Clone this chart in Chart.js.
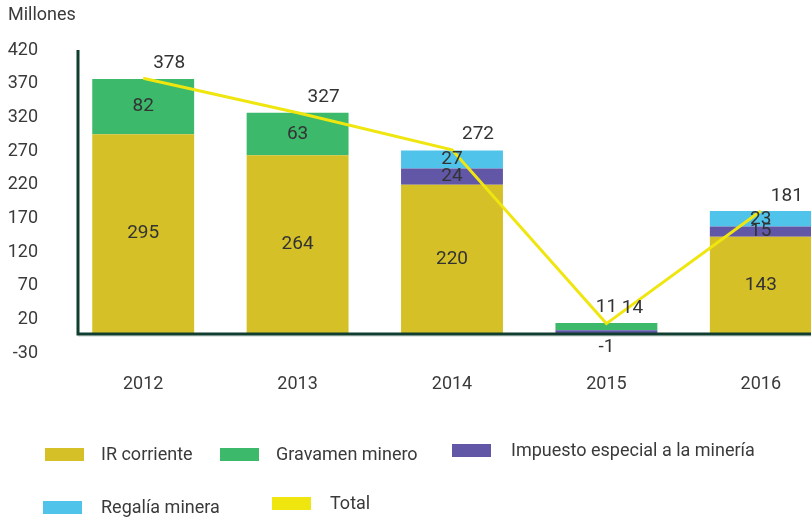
<!DOCTYPE html>
<html>
<head>
<meta charset="utf-8">
<title>Millones</title>
<script src="https://cdn.jsdelivr.net/npm/chart.js@4.4.1/dist/chart.umd.min.js"></script>
<style>
	html, body { margin: 0; padding: 0; overflow: hidden; background: #fff; font-family: Roboto, sans-serif; }
	#wrap { position: relative; width: 811px; height: 518px; overflow: hidden; }
	#chart { position: absolute; left: 0; top: 0; }
	#unit { position: absolute; left: 8px; top: 3px; font-size: 18px; color: #3a3a3a; }
	.box { position: absolute; width: 39px; height: 13px; }
	.txt { position: absolute; font-size: 18px; color: #3a3a3a; white-space: nowrap; line-height: 22px; }
</style>
</head>
<body>
<div id="wrap">
	<canvas id="chart" width="845" height="518"></canvas>
	<div id="unit">Millones</div>

	<div class="box" style="left:45px;top:448px;background:#d5c027"></div>
	<div class="txt" style="left:101px;top:443px">IR corriente</div>
	<div class="box" style="left:220px;top:448px;background:#3cb96a"></div>
	<div class="txt" style="left:276px;top:443px">Gravamen minero</div>
	<div class="box" style="left:452px;top:444px;background:#6157a6"></div>
	<div class="txt" style="left:511px;top:439px">Impuesto especial a la minería</div>
	<div class="box" style="left:43px;top:501px;background:#4fc3ea"></div>
	<div class="txt" style="left:101px;top:496px">Regalía minera</div>
	<div class="box" style="left:272px;top:497px;background:#efe60f"></div>
	<div class="txt" style="left:330px;top:492px">Total</div>
</div>
<script>
	const years = ['2012', '2013', '2014', '2015', '2016'];
	const irCorriente = [295, 264, 220, -1, 143];
	const impuesto = [0, 0, 24, 4, 15];
	const regalia = [0, 0, 27, 0, 23];
	const gravamen = [82, 63, 0, 11, 0];
	const total = [378, 327, 272, 14, 181];
	const yTicks = [-30, 20, 70, 120, 170, 220, 270, 320, 370, 420];

	const textColor = '#3a3a3a';
	Chart.defaults.font.family = 'Roboto';
	Chart.defaults.color = textColor;

	// axis lines at the zero level + value labels
	const decorations = {
		id: 'decorations',
		afterDatasetsDraw(chart) {
			const ctx = chart.ctx;
			const area = chart.chartArea;
			const zeroY = chart.scales.y.getPixelForValue(0);
			const axisX = area.left + 12;
			ctx.save();
			ctx.strokeStyle = '#c9d2ce';
			ctx.lineWidth = 1;
			ctx.beginPath();
			ctx.moveTo(axisX, zeroY + 3);
			ctx.lineTo(area.right, zeroY + 3);
			ctx.stroke();
			ctx.strokeStyle = '#0f3d2f';
			ctx.lineWidth = 3;
			ctx.beginPath();
			ctx.moveTo(axisX, area.top);
			ctx.lineTo(axisX, zeroY + 1);
			ctx.lineTo(area.right, zeroY + 1);
			ctx.stroke();

			ctx.font = '19px Roboto';
			ctx.fillStyle = '#333';
			ctx.textAlign = 'center';
			ctx.textBaseline = 'middle';
			chart.data.datasets.forEach((ds, d) => {
				const meta = chart.getDatasetMeta(d);
				meta.data.forEach((el, i) => {
					const v = ds.data[i];
					if (ds.type === 'line') {
						ctx.fillText(v, el.x + 26, el.y - 15);
						return;
					}
					if (v === 0 || (v > 0 && v < 10)) return;
					let y;
					if (v < 0) y = Math.max(el.y, el.base) + 14;
					else if (v < 15) y = el.y - 16;
					else y = (el.y + el.base) / 2;
					ctx.fillText(v, el.x, y);
				});
			});
			ctx.restore();
		}
	};

	const bar = (label, data, color) => ({
		type: 'bar', label: label, data: data, backgroundColor: color,
		stack: 'taxes', order: 1, barPercentage: 0.66, categoryPercentage: 1
	});

	new Chart(document.getElementById('chart').getContext('2d'), {
		data: {
			labels: years,
			datasets: [
				bar('IR corriente', irCorriente, '#d5c027'),
				bar('Impuesto especial a la minería', impuesto, '#6157a6'),
				bar('Regalía minera', regalia, '#4fc3ea'),
				bar('Gravamen minero', gravamen, '#3cb96a'),
				{
					type: 'line', label: 'Total', data: total, stack: 'total', order: 0,
					borderColor: '#efe60f', borderWidth: 3, pointRadius: 0, tension: 0, fill: false
				}
			]
		},
		options: {
			responsive: false,
			animation: false,
			layout: { padding: { top: 50, right: 7, left: 0, bottom: 0 } },
			plugins: { legend: { display: false }, tooltip: { enabled: false } },
			scales: {
				x: {
					stacked: true,
					grid: { display: false, drawTicks: false },
					border: { display: false },
					ticks: { font: { size: 18 }, color: textColor, padding: 14 },
					afterFit: s => { s.height = 158; }
				},
				y: {
					stacked: true,
					min: -40,
					max: 420,
					grid: { display: false, drawTicks: false },
					border: { display: false },
					ticks: { font: { size: 18 }, color: textColor, padding: 28 },
					afterBuildTicks: s => { s.ticks = yTicks.map(v => ({ value: v })); },
					afterFit: s => { s.width = 66; }
				}
			}
		},
		plugins: [decorations]
	});
</script>
</body>
</html>
